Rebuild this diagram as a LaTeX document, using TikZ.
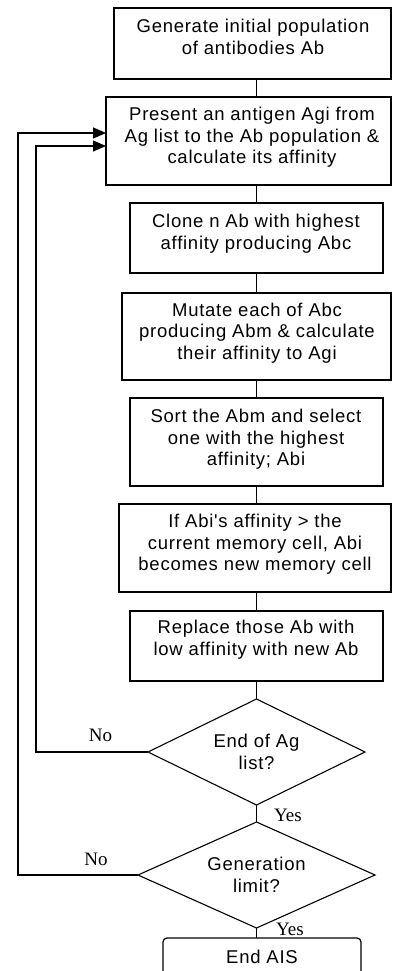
\documentclass[tikz,border=0pt]{standalone}
\usepackage{fontspec}
\setmainfont{Liberation Sans}
\newfontfamily\labfont{Liberation Serif}
\newfontfamily\boxfont[LetterSpace=4]{Liberation Sans}
\usetikzlibrary{shapes.geometric,arrows.meta}
\begin{document}
\begin{tikzpicture}[x=1pt,y=-1pt,
  procbox/.style={draw, line width=1.2pt, inner sep=0pt, outer sep=0pt, anchor=north west},
  endbox/.style={procbox, rounded corners=4pt},
  boxtext/.style={font=\boxfont\fontsize{18.5}{21.5}\selectfont, align=center, inner sep=0pt},
  decision/.style={diamond, draw, line width=1.1pt, inner sep=0pt, outer sep=0pt, aspect=2,
    font=\boxfont\fontsize{18.5}{21.5}\selectfont, align=center},
  flow/.style={line width=1.2pt},
  loopback/.style={line width=1.2pt, -{Triangle[length=13pt,width=11pt]}},
  yn/.style={font=\labfont\fontsize{19}{21}\selectfont, inner sep=0pt}
]
\clip (0,0) rectangle (392,971);
\useasboundingbox (0,0) rectangle (392,971);

% process boxes
\node[procbox, minimum width=277, minimum height=71] (b1) at (114,8) {};
\node[procbox, minimum width=285, minimum height=88] (b2) at (106,97) {};
\node[procbox, minimum width=253, minimum height=70] (b3) at (130,203) {};
\node[procbox, minimum width=269, minimum height=87] (b4) at (122,293) {};
\node[procbox, minimum width=253, minimum height=88] (b5) at (130,398) {};
\node[procbox, minimum width=272, minimum height=88] (b6) at (119,504) {};
\node[procbox, minimum width=253, minimum height=70] (b7) at (130,611) {};

% box texts
\node[boxtext] (t1) at (253,37) {Generate initial population\\of antibodies Ab};
\node[boxtext] (t2) at (252,137.5) {Present an antigen Agi from\\Ag list to the Ab population \&\\calculate its affinity};
\node[boxtext] (t3) at (256,233.5) {Clone n Ab with highest\\affinity producing Abc};
\node[boxtext] (t4) at (257,333) {Mutate each of Abc\\producing Abm \& calculate\\their affinity to Agi};
\node[boxtext] (t5) at (256,439.5) {Sort the Abm and select\\one with the highest\\affinity; Abi};
\node[boxtext] (t6) at (255,544.5) {If Abi's affinity > the\\current memory cell, Abi\\becomes new memory cell};
\node[boxtext] (t7) at (256,639.5) {Replace those Ab with\\low affinity with new Ab};

% decisions
\node[decision, minimum width=217, minimum height=106] (d1) at (256.5,752) {End of Ag\\list?};
\node[decision, minimum width=237, minimum height=106] (d2) at (256.5,875) {Generation\\limit?};

% end
\node[endbox, minimum width=198, minimum height=60] (e) at (163,938) {};
\node[boxtext] (te) at (262,956.5) {End AIS};

% main spine
\draw[flow] (b1.south -| d1.north) -- (b2.north -| d1.north);
\draw[flow] (b2.south -| d1.north) -- (b3.north -| d1.north);
\draw[flow] (b3.south -| d1.north) -- (b4.north -| d1.north);
\draw[flow] (b4.south -| d1.north) -- (b5.north -| d1.north);
\draw[flow] (b5.south -| d1.north) -- (b6.north -| d1.north);
\draw[flow] (b6.south -| d1.north) -- (b7.north -| d1.north);
\draw[flow] (b7.south -| d1.north) -- (d1.north);
\draw[flow] (d1.south) -- (d2.north);
\draw[flow] (d2.south) -- (e.north -| d2.south);

% loop backs
\coordinate (lo) at (18,0);
\coordinate (li) at (36,0);
\draw[loopback] (d2.west) -- (d2.west -| lo) |- ([yshift=8pt]b2.west);
\draw[loopback] (d1.west) -- (d1.west -| li) |- ([yshift=-5pt]b2.west);

% labels
\node[yn] (no1) at (100.5,735) {No};
\node[yn] (no2) at (96,859.5) {No};
\node[yn] (yes1) at (288,815) {Yes};
\node[yn] (yes2) at (290,929) {Yes};
\end{tikzpicture}
\end{document}
